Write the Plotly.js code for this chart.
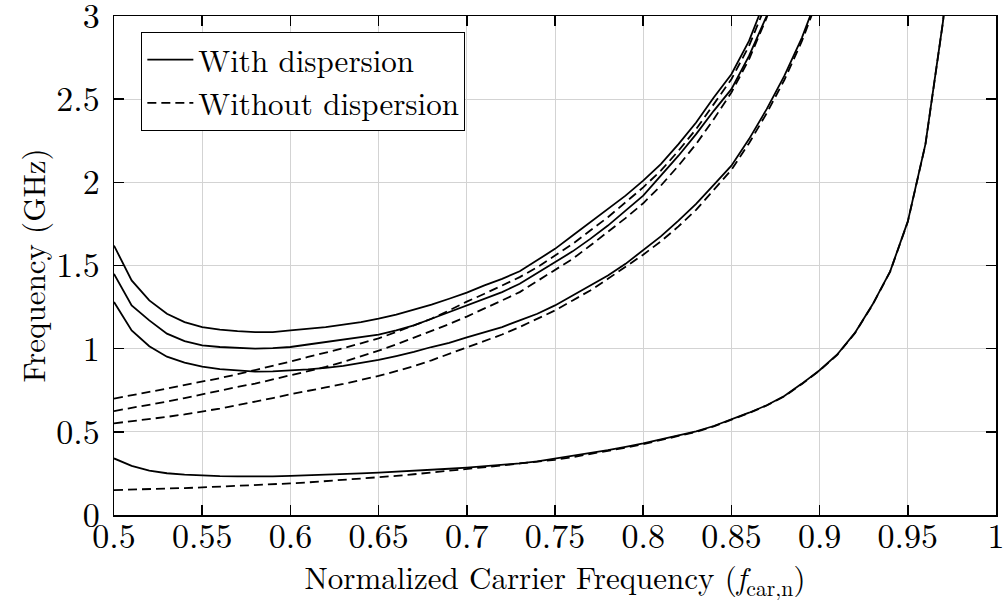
<!DOCTYPE html>
<html>
<head>
<meta charset="utf-8">
<script src="https://cdn.plot.ly/plotly-3.0.1.min.js"></script>
<style>
html,body{margin:0;padding:0;background:#fff;}
#chart{width:1003px;height:602px;}
</style>
</head>
<body>
<div id="chart"></div>
<script>
// Normalized carrier frequency grid
var xGrid = [0.50,0.51,0.52,0.53,0.54,0.55,0.56,0.57,0.58,0.59,
             0.60,0.61,0.62,0.63,0.64,0.65,0.66,0.67,0.68,0.69,
             0.70,0.71,0.72,0.73,0.74,0.75,0.76,0.77,0.78,0.79,
             0.80,0.81,0.82,0.83,0.84,0.85,0.86,0.87,0.88,0.89,
             0.90,0.91,0.92,0.93,0.94,0.95,0.96,0.97,0.98];

// With dispersion (GHz)
var withA = [1.62,1.41,1.29,1.21,1.16,1.13,1.115,1.105,1.10,1.10,
             1.11,1.12,1.13,1.145,1.16,1.18,1.205,1.235,1.265,1.30,
             1.337,1.38,1.42,1.465,1.53,1.60,1.68,1.76,1.84,1.92,
             2.01,2.11,2.23,2.36,2.51,2.65,2.85,3.12];
var withB = [1.45,1.26,1.17,1.09,1.045,1.02,1.01,1.003,1.0,1.003,
             1.01,1.025,1.04,1.055,1.07,1.085,1.11,1.14,1.18,1.22,
             1.26,1.30,1.34,1.39,1.455,1.52,1.585,1.66,1.74,1.83,
             1.92,2.04,2.16,2.29,2.43,2.56,2.76,3.0,3.3];
var withC = [1.28,1.11,1.015,0.952,0.916,0.892,0.877,0.868,0.862,0.863,
             0.868,0.875,0.885,0.897,0.914,0.932,0.955,0.98,1.01,1.035,
             1.068,1.10,1.13,1.17,1.21,1.26,1.32,1.38,1.44,1.51,
             1.59,1.675,1.77,1.87,1.985,2.10,2.26,2.44,2.64,2.87,3.15];
var withD = [0.34,0.295,0.267,0.251,0.243,0.237,0.234,0.232,0.231,0.232,
             0.235,0.238,0.242,0.246,0.25,0.255,0.26,0.266,0.272,0.278,
             0.285,0.293,0.301,0.31,0.322,0.338,0.355,0.372,0.39,0.41,
             0.43,0.455,0.478,0.503,0.535,0.573,0.615,0.66,0.715,0.79,
             0.87,0.965,1.095,1.265,1.465,1.765,2.23,2.97,4.1];

// Without dispersion (GHz)
var noA = [0.70,0.718,0.74,0.76,0.78,0.80,0.823,0.846,0.87,0.895,
           0.922,0.95,0.975,1.003,1.032,1.062,1.10,1.14,1.18,1.23,
           1.283,1.33,1.38,1.43,1.49,1.56,1.63,1.71,1.79,1.88,
           1.97,2.07,2.19,2.32,2.47,2.62,2.82,3.08];
var noB = [0.625,0.643,0.662,0.682,0.703,0.726,0.748,0.77,0.79,0.814,
           0.838,0.865,0.89,0.92,0.953,0.988,1.025,1.065,1.105,1.148,
           1.193,1.24,1.29,1.34,1.405,1.47,1.54,1.62,1.70,1.785,
           1.874,1.98,2.10,2.23,2.38,2.54,2.74,2.99,3.3];
var noC = [0.551,0.563,0.576,0.59,0.605,0.621,0.64,0.66,0.68,0.703,
           0.726,0.745,0.767,0.788,0.812,0.836,0.865,0.895,0.93,0.968,
           1.008,1.045,1.085,1.13,1.18,1.23,1.29,1.35,1.42,1.49,
           1.565,1.645,1.735,1.835,1.955,2.075,2.235,2.415,2.615,2.85,3.13];
var noD = [0.15,0.152,0.155,0.158,0.162,0.166,0.17,0.175,0.18,0.185,
           0.19,0.196,0.203,0.21,0.218,0.226,0.235,0.245,0.255,0.265,
           0.276,0.287,0.298,0.31,0.32,0.332,0.348,0.366,0.385,0.405,
           0.426,0.45,0.475,0.50,0.533,0.571,0.613,0.658,0.713,0.788,
           0.868,0.963,1.093,1.263,1.463,1.763,2.228,2.968,4.1];

var legendNames = ['With dispersion', 'Without dispersion'];
var xTickVals = [0.5,0.55,0.6,0.65,0.7,0.75,0.8,0.85,0.9,0.95,1];
var xTickText = ['0.5','0.55','0.6','0.65','0.7','0.75','0.8','0.85','0.9','0.95','1'];
var yTickVals = [0,0.5,1,1.5,2,2.5,3];
var yTickText = ['0','0.5','1','1.5','2','2.5','3'];

function xsFor(arr){ return xGrid.slice(0, arr.length); }

var FONT = 'Latin Modern Roman';
var traces = [];
var solid = [withA, withB, withC, withD];
var dashed = [noA, noB, noC, noD];
solid.forEach(function(s, i){
  traces.push({x: xsFor(s), y: s, type:'scatter', mode:'lines',
    line:{color:'#000', width:1.8, dash:'solid'},
    name: legendNames[0], showlegend: i===0, legendgroup:'w'});
});
dashed.forEach(function(s, i){
  traces.push({x: xsFor(s), y: s, type:'scatter', mode:'lines',
    line:{color:'#000', width:1.8, dash:'9px,5px'},
    name: legendNames[1], showlegend: i===0, legendgroup:'n'});
});

var layout = {
  width:1003, height:602,
  margin:{l:114, r:7, t:16, b:87},
  paper_bgcolor:'#fff', plot_bgcolor:'#fff',
  font:{family:FONT, color:'#000', size:31},
  showlegend:true,
  legend:{x:0.031, y:0.968, xanchor:'left', yanchor:'top',
    bgcolor:'#fff', bordercolor:'#000', borderwidth:1,
    font:{family:FONT, size:31, color:'#000'}, traceorder:'normal',
    tracegroupgap:0, itemwidth:46},
  xaxis:{range:[0.5,1], tickvals:xTickVals, ticktext:xTickText,
    ticks:'inside', ticklen:10, tickwidth:1.5, tickcolor:'#000',
    showline:true, linecolor:'#000', linewidth:1.5, mirror:'ticks',
    showgrid:true, gridcolor:'#d3d3d3', gridwidth:1, zeroline:false,
    tickfont:{family:FONT, size:34}, automargin:'bottom', ticklabeloverflow:'allow',
    ticklabelstandoff:-9,
    title:{text:'Normalized Carrier Frequency (<i>f</i><sub>car,n</sub>)', font:{family:FONT, size:31}, standoff:0}},
  yaxis:{range:[0,3], tickvals:yTickVals, ticktext:yTickText,
    ticks:'inside', ticklen:10, tickwidth:1.5, tickcolor:'#000',
    showline:true, linecolor:'#000', linewidth:1.5, mirror:'ticks',
    showgrid:true, gridcolor:'#d3d3d3', gridwidth:1, zeroline:false,
    tickfont:{family:FONT, size:34}, automargin:'left', ticklabeloverflow:'allow',
    ticklabelstandoff:6,
    title:{text:'Frequency (GHz)', font:{family:FONT, size:31}, standoff:1}}
};

Plotly.newPlot('chart', traces, layout, {displayModeBar:false, staticPlot:true});
</script>
</body>
</html>
